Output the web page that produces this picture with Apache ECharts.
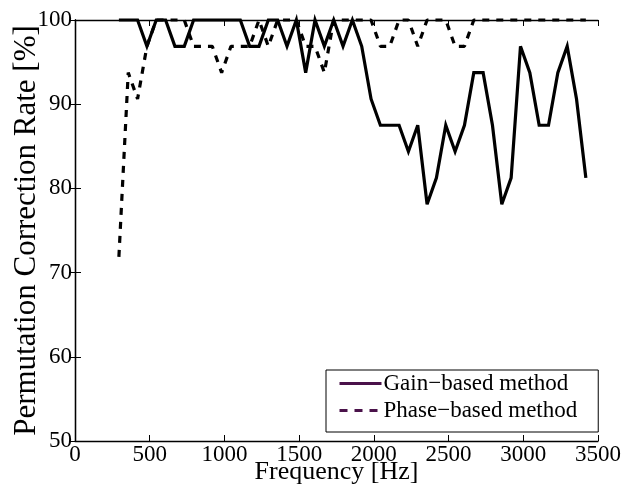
<!DOCTYPE html>
<html>
<head>
<meta charset="utf-8">
<script src="https://cdn.jsdelivr.net/npm/echarts@6/dist/echarts.min.js"></script>
<style>
html,body{margin:0;padding:0;background:#fff;}
#chart{width:622px;height:486px;}
</style>
</head>
<body>
<div id="chart"></div>
<script>
// Frequencies [Hz]
var frequency = [293.75, 356.25, 418.75, 481.25, 543.75, 606.25, 668.75, 731.25, 793.75, 856.25,
  918.75, 981.25, 1043.75, 1106.25, 1168.75, 1231.25, 1293.75, 1356.25, 1418.75, 1481.25,
  1543.75, 1606.25, 1668.75, 1731.25, 1793.75, 1856.25, 1918.75, 1981.25, 2043.75, 2106.25,
  2168.75, 2231.25, 2293.75, 2356.25, 2418.75, 2481.25, 2543.75, 2606.25, 2668.75, 2731.25,
  2793.75, 2856.25, 2918.75, 2981.25, 3043.75, 3106.25, 3168.75, 3231.25, 3293.75, 3356.25, 3418.75];
// Gain-based method [%]
var gainRate = [100, 100, 100, 96.875, 100, 100, 96.875, 96.875, 100, 100,
  100, 100, 100, 100, 96.875, 96.875, 100, 100, 96.875, 100,
  93.75, 100, 96.875, 100, 96.875, 100, 96.875, 90.625, 87.5, 87.5,
  87.5, 84.375, 87.5, 78.125, 81.25, 87.5, 84.375, 87.5, 93.75, 93.75,
  87.5, 78.125, 81.25, 96.875, 93.75, 87.5, 87.5, 93.75, 96.875, 90.625, 81.25];
// Phase-based method [%]
var phaseRate = [71.875, 93.75, 90.625, 96.875, 100, 100, 100, 100, 96.875, 96.875,
  96.875, 93.75, 96.875, 96.875, 96.875, 100, 96.875, 100, 100, 100,
  96.875, 96.875, 93.75, 100, 100, 100, 100, 100, 96.875, 96.875,
  100, 100, 96.875, 100, 100, 100, 96.875, 96.875, 100, 100,
  100, 100, 100, 100, 100, 100, 100, 100, 100, 100, 100];
var seriesNames = ['Gain\u2212based method', 'Phase\u2212based method'];
var xTicks = [0, 500, 1000, 1500, 2000, 2500, 3000, 3500];
var yTicks = [50, 60, 70, 80, 90, 100];

function pairs(xs, ys) { return xs.map(function (x, i) { return [x, ys[i]]; }); }

var FONT = 'Liberation Serif';
var chart = echarts.init(document.getElementById('chart'), null, {renderer: 'canvas'});
var lineAx = {show: true, lineStyle: {color: '#000', width: 1.3}};
var tickAx = {show: true, inside: true, length: 6, lineStyle: {color: '#000', width: 1}};
var legendColor = '#4a124a';
function plain(v) { return String(v); }
chart.setOption({
  animation: false,
  backgroundColor: '#fff',
  grid: {left: 75, right: 24, top: 20, bottom: 45, containLabel: false, outerBoundsMode: 'none'},
  xAxis: [{
    type: 'value', min: xTicks[0], max: xTicks[xTicks.length - 1], interval: 500,
    position: 'bottom',
    name: 'Frequency [Hz]', nameLocation: 'middle', nameGap: 18, nameMoveOverlap: false,
    nameTextStyle: {fontFamily: FONT, fontSize: 26, color: '#000'},
    axisLine: lineAx, axisTick: tickAx, splitLine: {show: false},
    axisLabel: {fontFamily: FONT, fontSize: 23, color: '#000', margin: 2, formatter: plain}
  }, {
    type: 'value', min: xTicks[0], max: xTicks[xTicks.length - 1], interval: 500,
    position: 'top', axisLine: lineAx, axisTick: tickAx, splitLine: {show: false},
    axisLabel: {show: false}
  }],
  yAxis: [{
    type: 'value', min: yTicks[0], max: yTicks[yTicks.length - 1], interval: 10,
    position: 'left',
    name: 'Permutation Correction Rate [%]', nameLocation: 'middle', nameGap: 33, nameMoveOverlap: false,
    nameTextStyle: {fontFamily: FONT, fontSize: 31, color: '#000'},
    axisLine: lineAx, axisTick: tickAx, splitLine: {show: false},
    axisLabel: {fontFamily: FONT, fontSize: 23, color: '#000', margin: 3, formatter: plain}
  }, {
    type: 'value', min: yTicks[0], max: yTicks[yTicks.length - 1], interval: 10,
    position: 'right', axisLine: lineAx, axisTick: tickAx, splitLine: {show: false},
    axisLabel: {show: false}
  }],
  legend: {
    orient: 'vertical', left: 326, top: 370,
    padding: [0, 21, 8, 12],
    itemGap: 0, itemWidth: 42, itemHeight: 3,
    backgroundColor: '#fff', borderColor: '#000', borderWidth: 1, borderRadius: 0,
    textStyle: {fontFamily: FONT, fontSize: 23, color: '#000', lineHeight: 27, padding: [0, 0, 0, -3]},
    data: [
      {name: seriesNames[0], itemStyle: {color: legendColor, opacity: 0},
       lineStyle: {color: legendColor, width: 3, type: 'solid'}},
      {name: seriesNames[1], itemStyle: {color: legendColor, opacity: 0},
       lineStyle: {color: legendColor, width: 3, type: [8, 7]}}
    ]
  },
  series: [{
    name: seriesNames[0], type: 'line', data: pairs(frequency, gainRate),
    symbol: 'none', color: '#000',
    lineStyle: {color: '#000', width: 3.2, type: 'solid', join: 'miter', miterLimit: 4},
    clip: false
  }, {
    name: seriesNames[1], type: 'line', data: pairs(frequency, phaseRate),
    symbol: 'none', color: '#000',
    lineStyle: {color: '#000', width: 3.2, type: [7, 7], cap: 'butt'},
    clip: false
  }]
});
</script>
</body>
</html>
